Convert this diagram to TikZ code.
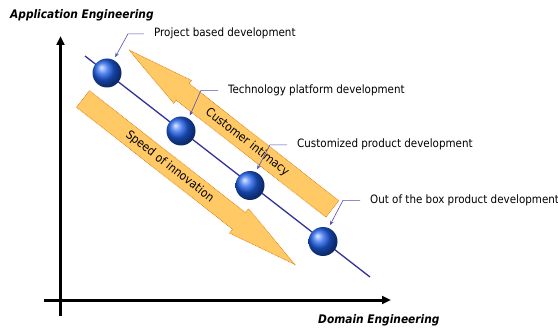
\documentclass[tikz,border=0pt]{standalone}
\usepackage{fontspec}
\setmainfont{DejaVu Sans Condensed}
\usetikzlibrary{arrows.meta,shadings}
\definecolor{arrfill}{RGB}{255,201,102}
\definecolor{arrdraw}{RGB}{225,130,20}
\definecolor{lineblue}{RGB}{50,50,155}
\definecolor{callblue}{RGB}{80,80,180}
\definecolor{ballblue}{RGB}{30,95,235}
\tikzset{
  axisline/.style={line width=3pt,black},
  fatarrow/.style={fill=arrfill,draw=arrdraw,line width=0.7pt,dash pattern=on 0.8pt off 0.8pt},
  arrtext/.style={font=\fontsize{12}{14}\selectfont,inner sep=0pt},
  ballnode/.style={circle,minimum size=29pt,inner sep=0pt,shading=ball,ball color=ballblue},
  lab/.style={font=\fontsize{11.5}{13}\selectfont,anchor=base west,inner sep=0pt},
  axlab/.style={font=\fontsize{11.8}{13}\selectfont\bfseries\itshape,anchor=base west,inner sep=0pt},
  callout/.style={callblue,line width=0.6pt,-{Stealth[length=4.5pt,width=3.5pt]},shorten >=3pt},
}
\begin{document}
\begin{tikzpicture}[x=1pt,y=-1pt]
\useasboundingbox[fill=white] (0,0) rectangle (558,329);
% axes
\coordinate (vbot) at (60.5,316);
\coordinate (vtop) at (60.5,36);
\coordinate (hleft) at (44,300);
\coordinate (hright) at (391,300);
\draw[axisline,-{Triangle[length=9pt,width=8pt]}] (vbot) -- (vtop);
\draw[axisline,-{Triangle[length=9pt,width=8pt]}] (hleft) -- (hright);
\node[axlab] (ylab) at (10,19) {Application Engineering};
\node[axlab] (xlab) at (318,323) {Domain Engineering};
% customer intimacy arrow (tip at 129,50)
\begin{scope}[shift={(129,50)},rotate=-38]
\fill[fatarrow] (0,0) -- (68,-14.5) -- (68,-10.5) -- (258,-10.5) -- (258,10.5) -- (68,10.5) -- (68,14.5) -- cycle;
\node[arrtext,rotate=-38] (cust) at (150,0) {Customer intimacy};
\end{scope}
% speed of innovation arrow (tail centre at 83,99)
\begin{scope}[shift={(83,99)},rotate=-38]
\fill[fatarrow] (0,-10.5) -- (198,-10.5) -- (198,-15.5) -- (268.6,0) -- (198,15.5) -- (198,10.5) -- (0,10.5) -- cycle;
\node[arrtext,rotate=-38] (speed) at (110,0) {Speed of innovation};
\end{scope}
% main line
\coordinate (lstart) at (85,56);
\coordinate (lend) at (370,277);
\draw[lineblue,line width=1.3pt] (lstart) -- (lend);
% balls
\node[ballnode] (b1) at (107,73) {};
\node[ballnode] (b2) at (181,131) {};
\node[ballnode] (b3) at (250,185.5) {};
\node[ballnode] (b4) at (323,241.5) {};
% labels
\node[lab] (l1) at (154,37) {Project based development};
\node[lab] (l2) at (228,93.5) {Technology platform development};
\node[lab] (l3) at (297,148) {Customized product development};
\node[lab] (l4) at (370,203.5) {Out of the box product development};
% callouts
\draw[callout] ([xshift=-10pt]l1.west) -- ++(-16,0) -- (b1.63);
\draw[callout] ([xshift=-10pt]l2.west) -- ++(-17,0) -- (b2.59);
\draw[callout] ([xshift=-10pt]l3.west) -- ++(-17,0) -- (b3.67);
\draw[callout] ([xshift=-10pt]l4.west) -- ++(-17,0) -- (b4.68);
\end{tikzpicture}
\end{document}
